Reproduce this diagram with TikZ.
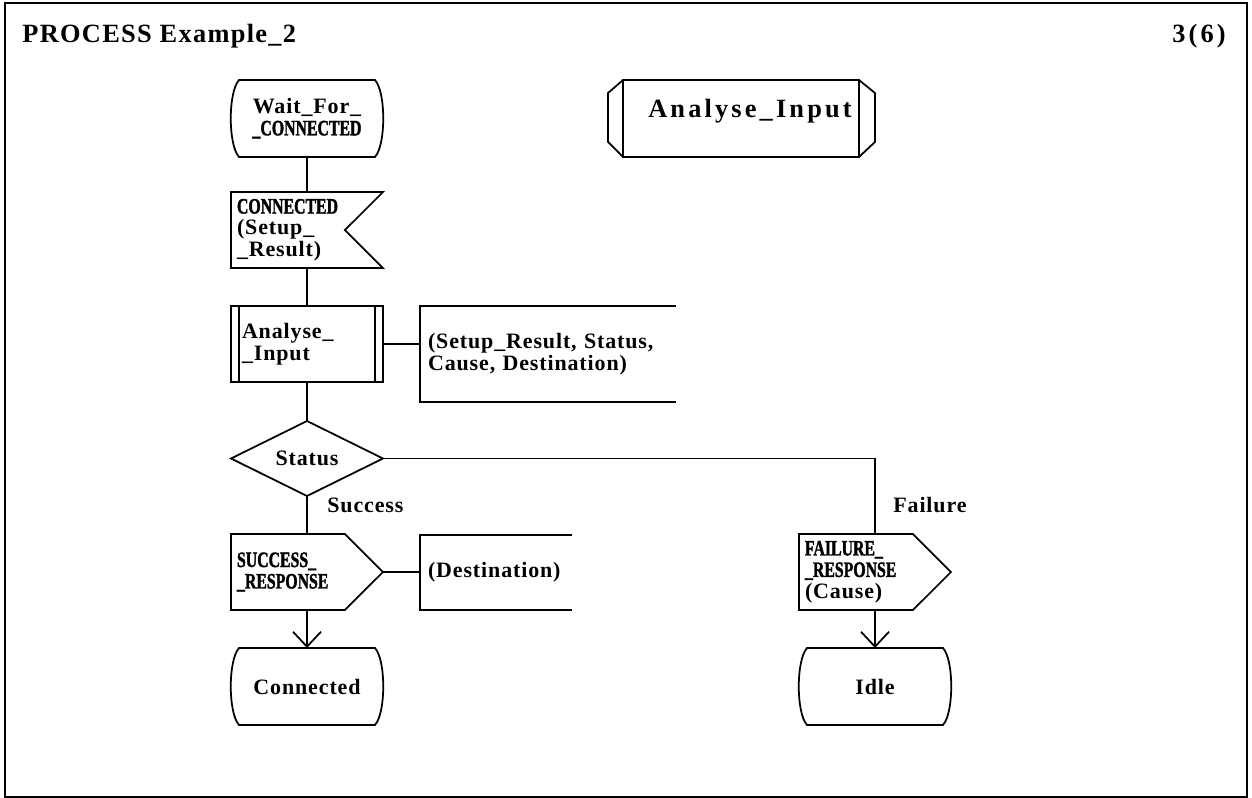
\documentclass[tikz,border=0pt]{standalone}
\usepackage{fontspec}
\setmainfont{Liberation Serif}
\newfontfamily\labelface[LetterSpace=4]{Liberation Serif Bold}
\newfontfamily\capsface[FakeStretch=0.72,FakeBold=1.6]{Liberation Serif Bold}
\newfontfamily\titleface[LetterSpace=5]{Liberation Serif Bold}
\newfontfamily\headface[LetterSpace=12]{Liberation Serif Bold}
\usetikzlibrary{calc,arrows.meta}

\newcommand\lbl{\fontsize{12.5}{12.2}\selectfont\labelface}
\newcommand\titlefont{\fontsize{15}{16}\selectfont\titleface}
\newcommand\headfont{\fontsize{15}{16}\selectfont\headface}
\newcommand\caps[1]{{\capsface #1}}

\tikzset{
  shapeline/.style={line width=1pt, line join=miter},
  flowline/.style={line width=1pt},
  arrowline/.style={flowline, -{Straight Barb[length=0.3cm,width=0.56cm,line width=1pt]}},
  blank/.style={inner sep=0pt, outer sep=0pt, draw=none},
  statebox/.style={blank, minimum width=3cm, minimum height=1.54cm, align=center, font=\lbl},
  leftbox/.style={blank, minimum height=1.52cm, text width=2.8cm, inner xsep=0.12cm, align=left, font=\lbl},
  procbox/.style={leftbox, text width=2.6cm, inner xsep=0.22cm},
  commentbox/.style={blank, inner xsep=0.16cm, align=left, font=\lbl},
  decisionbox/.style={blank, minimum width=3.04cm, minimum height=1.5cm, font=\lbl},
  tag/.style={font=\lbl, inner sep=0pt, anchor=west},
}

% SDL symbol outlines drawn around named nodes
\newcommand\drawstate[1]{%
  \draw[shapeline] ($(#1.north west)+(7,0)$) -- ($(#1.north east)+(-7,0)$)
    .. controls ($(#1.north east)+(4,12)$) and ($(#1.south east)+(4,-12)$) .. ($(#1.south east)+(-7,0)$)
    -- ($(#1.south west)+(7,0)$)
    .. controls ($(#1.south west)+(-4,-12)$) and ($(#1.north west)+(-4,12)$) .. cycle;}
\newcommand\drawinput[1]{%
  \draw[shapeline] (#1.north west) -- (#1.north east) -- ($(#1.east)+(-38,0)$)
    -- (#1.south east) -- (#1.south west) -- cycle;}
\newcommand\drawoutput[1]{%
  \draw[shapeline] (#1.north west) -- ($(#1.north east)+(-38,0)$) -- (#1.east)
    -- ($(#1.south east)+(-38,0)$) -- (#1.south west) -- cycle;}
\newcommand\drawproc[1]{%
  \draw[shapeline] (#1.north west) rectangle (#1.south east);
  \draw[shapeline] ($(#1.north west)+(8,0)$) -- ($(#1.south west)+(8,0)$);
  \draw[shapeline] ($(#1.north east)+(-8,0)$) -- ($(#1.south east)+(-8,0)$);}
\newcommand\drawdecision[1]{%
  \draw[shapeline] (#1.north) -- (#1.east) -- (#1.south) -- (#1.west) -- cycle;}
\newcommand\drawcomment[1]{%
  \draw[shapeline] (#1.north east) -- (#1.north west) -- (#1.south west) -- (#1.south east);}
\newcommand\drawrefproc[1]{%
  \draw[shapeline] (#1.north west) rectangle (#1.south east);
  \draw[shapeline] (#1.north west) -- ($(#1.north west)+(-15,13)$) -- ($(#1.south west)+(-15,-15)$) -- (#1.south west);
  \draw[shapeline] (#1.north east) -- ($(#1.north east)+(16,13)$) -- ($(#1.south east)+(16,-15)$) -- (#1.south east);}

\begin{document}
\begin{tikzpicture}[x=0.02cm, y=-0.02cm]
  \useasboundingbox (0,0) rectangle (1252,798);
  \draw[line width=1.1pt] (5,3) rectangle (1247,797);

  % heading
  \node[font=\titlefont, anchor=base west, inner sep=0pt] (title) at (22,42) {PROCESS Example\_2};
  \node[font=\headfont, anchor=base east, inner sep=0pt] (page) at (1226,42) {3(6)};

  % procedure reference
  \node[blank, minimum width=4.72cm, minimum height=1.54cm] (refproc) at (741,118.5) {};
  \drawrefproc{refproc}
  \node[font=\headfont, anchor=base, inner sep=0pt] (refname) at (750,117) {Analyse\_Input};

  % main flow
  \node[statebox] (wait) at (307,118.5) {Wait\_For\_\\\caps{\_CONNECTED}};
  \drawstate{wait}

  \node[leftbox] (conn) at (307,230) {\caps{CONNECTED}\\(Setup\_\\\_Result)};
  \drawinput{conn}

  \node[procbox] (anl) at (307,344) {Analyse\_\\\_Input};
  \drawproc{anl}

  \node[commentbox, text width=4.8cm, minimum height=1.92cm] (cmt1) at (548,354)
    {(Setup\_Result, Status,\\Cause, Destination)};
  \drawcomment{cmt1}

  \node[decisionbox] (status) at (307,458.5) {Status};
  \drawdecision{status}

  \node[leftbox] (succ) at (307,572) {\caps{SUCCESS\_}\\\caps{\_RESPONSE}};
  \drawoutput{succ}

  \node[commentbox, text width=2.72cm, minimum height=1.5cm] (cmt2) at (496,572.5) {(Destination)};
  \drawcomment{cmt2}

  \node[leftbox] (fail) at (875,572) {\caps{FAILURE\_}\\\caps{\_RESPONSE}\\(Cause)};
  \drawoutput{fail}

  \node[statebox] (connected) at (307,686.5) {Connected};
  \drawstate{connected}

  \node[statebox] (idle) at (875,686.5) {Idle};
  \drawstate{idle}

  % branch labels
  \node[tag] (lsucc) at (327,505) {Success};
  \node[tag] (lfail) at (893,505) {Failure};

  % connectors
  \draw[flowline] (wait.south) -- (conn.north);
  \draw[flowline] (conn.south) -- (anl.north);
  \draw[flowline] (anl.south) -- (status.north);
  \draw[flowline] (anl.east) -- (anl.east -| cmt1.west);
  \draw[flowline] (status.south) -- (succ.north);
  \draw[flowline] (status.east) -| (fail.north);
  \draw[flowline] (succ.east) -- (succ.east -| cmt2.west);
  \draw[arrowline] (succ.south) -- (connected.north);
  \draw[arrowline] (fail.south) -- (idle.north);
\end{tikzpicture}
\end{document}
